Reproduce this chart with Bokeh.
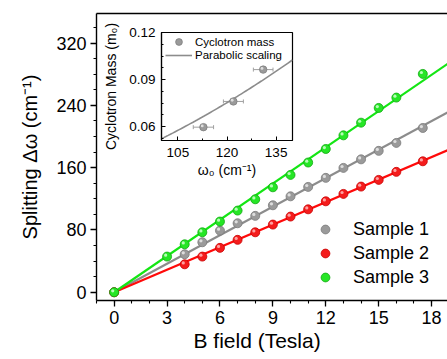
import numpy as np
from bokeh.plotting import figure
from bokeh.models import (Range1d, SingleIntervalTicker, FixedTicker, LinearAxis, Legend,
                          LegendItem, Title, Whisker, ColumnDataSource, TeeHead)
from bokeh.embed import file_html
from bokeh.resources import INLINE

# ---------------- data ----------------
B_s1 = [0, 4, 5, 6, 7, 8, 9, 10, 11, 12, 13, 14, 15, 16, 17.5]
dw_s1 = [0, 48.8, 64.2, 79.2, 88.6, 98.1, 111.7, 123.2, 135.3, 146.9, 159.7, 170.7, 181.6, 191.8, 211.0]
B_s2 = [0, 4, 5, 6, 7, 8, 9, 10, 11, 12, 13, 14, 15, 16, 17.5]
dw_s2 = [0, 35.9, 45.8, 57.0, 67.3, 77.0, 86.9, 97.2, 106.5, 116.8, 126.3, 135.7, 144.3, 154.6, 168.2]
B_s3 = [0, 3, 4, 5, 6, 7, 8, 9, 10, 11, 12, 13, 14, 15, 16, 17.5]
dw_s3 = [0, 45.8, 61.6, 77.0, 90.8, 104.9, 119.4, 134.8, 150.7, 166.6, 184.0, 201.5, 217.8, 236.7, 250.0, 280.4]
series_names = ["Sample 1", "Sample 2", "Sample 3"]

omega0 = [112.8, 121.95, 131.05]
mass = [0.0597, 0.0761, 0.0964]
omega_err = [3.1, 3.05, 3.0]

FONT = "Liberation Sans"

# ---------------- main figure ----------------
X0, X1 = -1.0, 18.9
Y0, Y1 = -10.6, 358
FW, FH = 351, 287   # frame size in px (width - borders)
p = figure(width=447, height=359, x_range=Range1d(X0, X1), y_range=Range1d(Y0, Y1),
           output_backend="svg", toolbar_location=None, x_axis_type=None, y_axis_type=None,
           min_border_left=96, min_border_right=0, min_border_top=13, min_border_bottom=59)
p.outline_line_color = None
p.background_fill_color = "white"
p.border_fill_color = "white"

def style_axis(ax):
    ax.axis_line_color = "black"
    ax.axis_line_width = 1.4
    ax.major_tick_line_color = "black"
    ax.major_tick_line_width = 1.3
    ax.minor_tick_line_color = "black"
    ax.minor_tick_line_width = 1.1
    ax.major_tick_out = 6
    ax.major_tick_in = 0
    ax.minor_tick_out = 3
    ax.minor_tick_in = 0
    ax.major_label_text_font = FONT
    ax.major_label_text_font_size = "18px"
    ax.major_label_text_color = "black"
    ax.major_label_standoff = 4
    ax.axis_label_text_font = FONT
    ax.axis_label_text_font_size = "20px"
    ax.axis_label_text_font_style = "normal"
    ax.axis_label_text_color = "black"

xaxis = LinearAxis(ticker=SingleIntervalTicker(interval=3, num_minor_ticks=3))
style_axis(xaxis)
p.add_layout(xaxis, "below")

p.add_layout(Title(text="B field (Tesla)", align="left", offset=97, standoff=0,
                   text_font=FONT, text_font_size="21px", text_font_style="normal",
                   text_color="black"), "below")

yaxis = LinearAxis(ticker=SingleIntervalTicker(interval=80, num_minor_ticks=4),
                   axis_label="Splitting Δω (cm⁻¹)")
style_axis(yaxis)
yaxis.axis_label_standoff = 12
p.add_layout(yaxis, "left")

topaxis = LinearAxis(ticker=FixedTicker(ticks=[]), axis_line_color="black", axis_line_width=1.4,
                     major_label_text_font_size="0px")
p.add_layout(topaxis, "above")

line_colors = ["#8c8c8c", "#ff0a0a", "#14e614"]
ball_fill = ["#9a9a9a", "#f41c1c", "#26e626"]
ball_edge = ["#7a7a7a", "#c80000", "#10a810"]
ball_light = ["#e6e6e6", "#ffb0b0", "#c8ffc8"]

xs_all = [B_s1, B_s2, B_s3]
ys_all = [dw_s1, dw_s2, dw_s3]
x_line_end = X1 + 1.0
px_x = (X1 - X0) / FW   # data units per pixel
px_y = (Y1 - Y0) / FH

# fitted lines (least squares through the origin)
for bx, by, lc in zip(xs_all, ys_all, line_colors):
    bx_a = np.array(bx, dtype=float)
    by_a = np.array(by, dtype=float)
    slope = float(np.dot(bx_a, by_a) / np.dot(bx_a, bx_a))
    p.line(x=[0, x_line_end], y=[0, slope * x_line_end], line_color=lc, line_width=2.2)

legend_items = []
for name, bx, by, fc, ec, hc in zip(series_names, xs_all, ys_all, ball_fill, ball_edge, ball_light):
    r = p.scatter(x=bx, y=by, size=9, marker="circle", fill_color=fc, line_color=ec, line_width=0.8)
    hx = [v - 1.4 * px_x for v in bx]
    hy = [v + 1.4 * px_y for v in by]
    p.scatter(x=hx, y=hy, size=3.2, marker="circle", fill_color=hc, line_color=None, fill_alpha=0.9)
    legend_items.append(LegendItem(label=name, renderers=[r]))

legend = Legend(items=legend_items,
                location=(218, 12), glyph_width=22, glyph_height=22, label_height=22, spacing=2,
                label_standoff=17, padding=0, margin=0, border_line_color=None,
                background_fill_alpha=0, label_text_font=FONT, label_text_font_size="18px",
                label_text_color="black")
p.add_layout(legend)

# ---------------- inset figure ----------------
IX0, IX1 = 100, 140
IY0, IY1 = 0.0512, 0.12005
ins = figure(width=200, height=165, x_range=Range1d(IX0, IX1), y_range=Range1d(IY0, IY1),
             output_backend="svg", toolbar_location=None, x_axis_type=None, y_axis_type=None,
             min_border_left=59, min_border_right=8, min_border_top=12, min_border_bottom=45)
ins.outline_line_color = "black"
ins.outline_line_width = 1.2
ins.background_fill_color = "white"
ins.border_fill_alpha = 0

def style_inset_axis(ax):
    ax.axis_line_color = "black"
    ax.axis_line_width = 1.2
    ax.major_tick_line_color = "black"
    ax.minor_tick_line_color = "black"
    ax.major_tick_in = 4
    ax.major_tick_out = 0
    ax.minor_tick_in = 2
    ax.minor_tick_out = 0
    ax.major_label_text_font = FONT
    ax.major_label_text_font_size = "13.5px"
    ax.major_label_text_color = "black"
    ax.axis_label_text_font = FONT
    ax.axis_label_text_font_size = "14px"
    ax.axis_label_text_font_style = "normal"
    ax.axis_label_text_color = "black"

ixaxis = LinearAxis(ticker=SingleIntervalTicker(interval=15, num_minor_ticks=2), axis_label="ω₀ (cm⁻¹)")
style_inset_axis(ixaxis)
ixaxis.major_label_standoff = 7
ixaxis.axis_label_standoff = 2
ins.add_layout(ixaxis, "below")

iyaxis = LinearAxis(ticker=SingleIntervalTicker(interval=0.03, num_minor_ticks=4),
                    axis_label="Cyclotron Mass (m₀)")
style_inset_axis(iyaxis)
iyaxis.major_label_standoff = 6
iyaxis.axis_label_standoff = 7
ins.add_layout(iyaxis, "left")

# parabolic scaling: m = a * w^2, a from least squares of the data
w_a = np.array(omega0)
m_a = np.array(mass)
a_coef = float(np.sum(m_a * w_a**2) / np.sum(w_a**4))
w_curve = np.linspace(IX0, IX1, 60)
r_par = ins.line(x=w_curve, y=a_coef * w_curve**2, line_color="#8c8c8c", line_width=1.6)

src = ColumnDataSource(dict(w=omega0, m=mass,
                            lo=[w - e for w, e in zip(omega0, omega_err)],
                            hi=[w + e for w, e in zip(omega0, omega_err)]))
ins.add_layout(Whisker(source=src, base="m", lower="lo", upper="hi", dimension="width",
                       line_color="#a0a0a0", line_width=1,
                       upper_head=TeeHead(size=4, line_color="#a0a0a0", line_width=1),
                       lower_head=TeeHead(size=4, line_color="#a0a0a0", line_width=1)))
r_mass = ins.scatter(x="w", y="m", source=src, size=7.5, marker="circle",
                     fill_color="#9a9a9a", line_color="#7a7a7a", line_width=0.7)
ipx_x = (IX1 - IX0) / 133
ipx_y = (IY1 - IY0) / 108
ins.scatter(x=[v - 1.2 * ipx_x for v in omega0], y=[v + 1.2 * ipx_y for v in mass], size=2.8,
            marker="circle", fill_color="#e6e6e6", line_color=None, fill_alpha=0.9)

leg_a = Legend(items=[LegendItem(label="Cyclotron mass", renderers=[r_mass])],
               location=(4, 90), glyph_width=27, glyph_height=17, label_height=17,
               label_standoff=3, padding=0, margin=0, border_line_color=None,
               background_fill_alpha=0, label_text_font=FONT, label_text_font_size="11.5px",
               label_text_color="black")
leg_b = Legend(items=[LegendItem(label="Parabolic scaling", renderers=[r_par])],
               location=(4, 79), glyph_width=27, glyph_height=12, label_height=12,
               label_standoff=3, padding=0, margin=0, border_line_color=None,
               background_fill_alpha=0, label_text_font=FONT, label_text_font_size="11.5px",
               label_text_color="black")
ins.add_layout(leg_a)
ins.add_layout(leg_b)

TEMPLATE = """
{% block postamble %}
<style>
  html, body { overflow: hidden; margin: 0; padding: 0; }
  .wrap { position: relative; width: 447px; height: 359px; }
  .mainplot { position: absolute; left: 0px; top: 0px; }
  .insetplot { position: absolute; left: 100px; top: 20px; }
</style>
{% endblock %}
{% block contents %}
{% from macros import embed %}
<div class="wrap">
  <div class="mainplot">{{ embed(roots[0]) }}</div>
  <div class="insetplot">{{ embed(roots[1]) }}</div>
</div>
{% endblock %}
"""

open("out.html", "w").write(file_html([p, ins], INLINE, template=TEMPLATE))
